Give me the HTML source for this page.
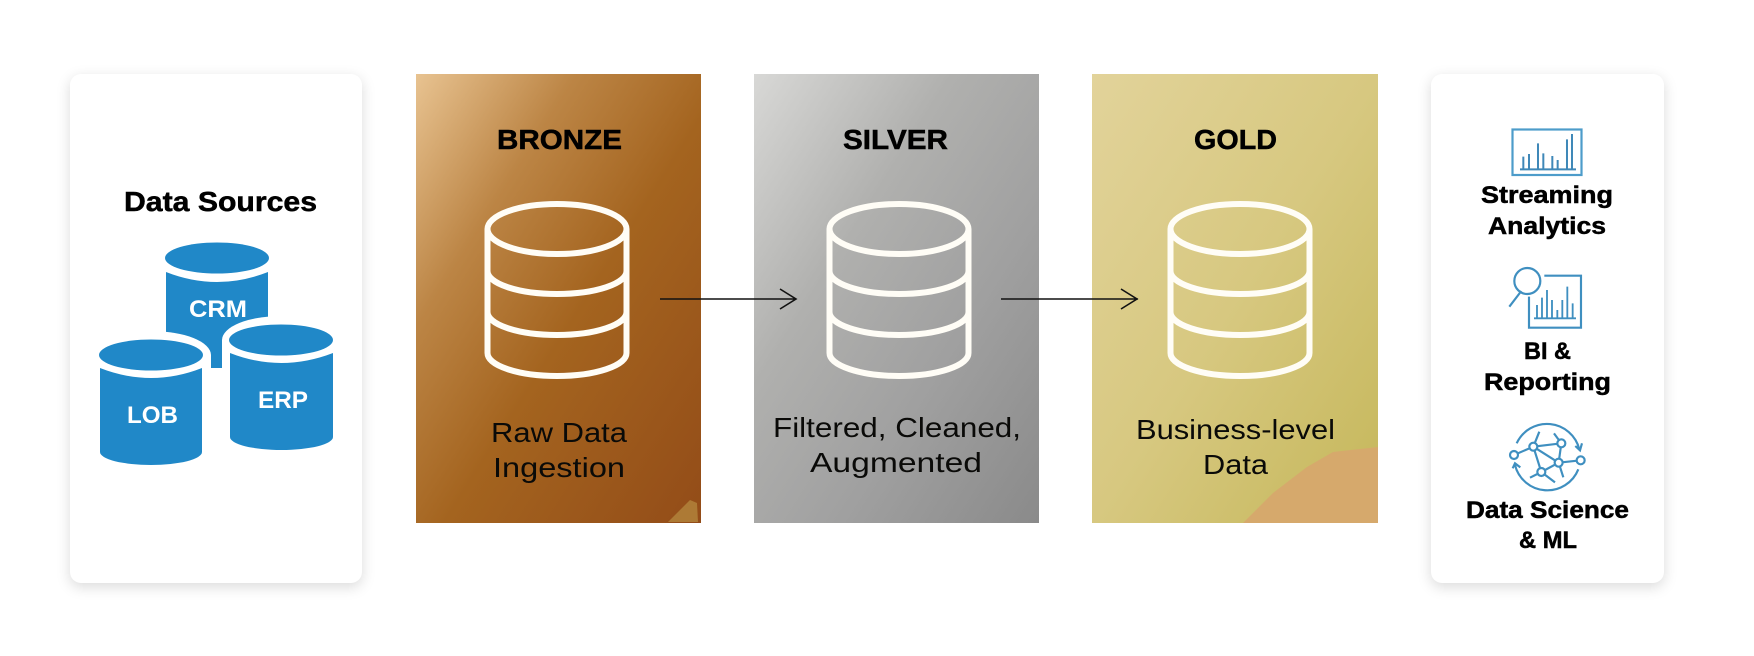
<!DOCTYPE html>
<html><head><meta charset="utf-8"><style>
html,body{margin:0;padding:0;background:#fff;width:1754px;height:656px;overflow:hidden}
.card{position:absolute;background:#fff;border-radius:11px;box-shadow:0 4px 14px rgba(0,0,0,.15)}
svg{position:absolute;left:0;top:0}
text{font-family:"Liberation Sans",sans-serif;fill:#000}
.h{font-weight:bold;font-size:28px;stroke:#000;stroke-width:.5px}
.b{font-size:28px;fill:#0a0a08}
.l{font-weight:bold;font-size:24px;stroke:#000;stroke-width:.5px}
.w{font-weight:bold;font-size:24px;fill:#fff}
</style></head><body>
<div class="card" style="left:70px;top:74px;width:292px;height:509px"></div>
<div class="card" style="left:1431px;top:74px;width:233px;height:509px"></div>
<svg width="1754" height="656" viewBox="0 0 1754 656" xmlns="http://www.w3.org/2000/svg">
<defs>
<linearGradient id="br" x1="0" y1="0" x2="1" y2="1"><stop offset="0" stop-color="#e8c391"/><stop offset=".28" stop-color="#bc8545"/><stop offset=".55" stop-color="#a4641f"/><stop offset="1" stop-color="#934c18"/></linearGradient>
<linearGradient id="si" x1="0" y1="0" x2="1" y2="1"><stop offset="0" stop-color="#d8d8d6"/><stop offset=".35" stop-color="#b0b0ae"/><stop offset=".65" stop-color="#a0a0a0"/><stop offset="1" stop-color="#8a8a8a"/></linearGradient>
<linearGradient id="go" x1="0" y1="0" x2="1" y2="1"><stop offset="0" stop-color="#e2d39a"/><stop offset=".5" stop-color="#d7c880"/><stop offset="1" stop-color="#c5b75a"/></linearGradient>
<g id="cyl" fill="none" stroke="#fffdf6" stroke-width="6">
<ellipse cx="0" cy="229" rx="69.5" ry="25"/>
<path d="M-69.5 229V353A69.5 23 0 0 0 69.5 353V229"/>
<path d="M-69.5 271A69.5 23 0 0 0 69.5 271"/>
<path d="M-69.5 312A69.5 23 0 0 0 69.5 312"/>
</g>
</defs>

<rect x="416" y="74" width="285" height="449" fill="url(#br)"/>
<path d="M668 522L690 500L697 503L698 522Z" fill="#ad7a35"/>
<rect x="754" y="74" width="285" height="449" fill="url(#si)"/>
<rect x="1092" y="74" width="286" height="449" fill="url(#go)"/>
<path d="M1243 523L1273 493L1307 467L1333 452L1378 447V523Z" fill="#d6a96c"/>

<use href="#cyl" x="557"/><use href="#cyl" x="899"/><use href="#cyl" x="1240"/>

<path d="M660 299H796M780 289L796 299L780 309M1001 299H1138M1121 289L1137 299L1121 309" fill="none" stroke="#111" stroke-width="1.6"/>

<text class="h" x="497" y="149" textLength="125" lengthAdjust="spacingAndGlyphs">BRONZE</text>
<text class="h" x="843" y="149" textLength="105" lengthAdjust="spacingAndGlyphs">SILVER</text>
<text class="h" x="1194" y="149" textLength="83" lengthAdjust="spacingAndGlyphs">GOLD</text>
<text class="b" x="491" y="442" textLength="136" lengthAdjust="spacingAndGlyphs">Raw Data</text>
<text class="b" x="493" y="477" textLength="132" lengthAdjust="spacingAndGlyphs">Ingestion</text>
<text class="b" x="773" y="437" textLength="248" lengthAdjust="spacingAndGlyphs">Filtered, Cleaned,</text>
<text class="b" x="810" y="472" textLength="172" lengthAdjust="spacingAndGlyphs">Augmented</text>
<text class="b" x="1136" y="439" textLength="199" lengthAdjust="spacingAndGlyphs">Business-level</text>
<text class="b" x="1203" y="474" textLength="65" lengthAdjust="spacingAndGlyphs">Data</text>

<!-- data sources -->
<text class="h" x="124" y="211" textLength="193" lengthAdjust="spacingAndGlyphs">Data Sources</text>
<g fill="#2088c8">
<ellipse cx="217" cy="258" rx="52" ry="15.5"/>
<path d="M166 272Q217 292 268 272V368H166Z"/>
</g>
<g fill="#fff">
<ellipse cx="151" cy="355" rx="60" ry="24"/><rect x="91" y="355" width="120" height="120"/>
<ellipse cx="281" cy="340" rx="59" ry="24"/><rect x="222" y="340" width="118" height="120"/>
</g>
<g fill="#2088c8">
<ellipse cx="151" cy="355" rx="52" ry="15.5"/>
<path d="M100 368Q151 388 202 368V452A51 13 0 0 1 100 452Z"/>
<ellipse cx="281" cy="340" rx="52" ry="15.5"/>
<path d="M230 353Q281 373 333 353V437A51.5 13 0 0 1 230 437Z"/>
</g>
<text class="w" x="189" y="317" textLength="58" lengthAdjust="spacingAndGlyphs">CRM</text>
<text class="w" x="127" y="423" textLength="51" lengthAdjust="spacingAndGlyphs">LOB</text>
<text class="w" x="258" y="408" textLength="50" lengthAdjust="spacingAndGlyphs">ERP</text>

<!-- icon 1 -->
<rect x="1512.5" y="129.5" width="69" height="45.5" fill="none" stroke="#4d9cca" stroke-width="2.2"/>
<g transform="translate(1460 110) scale(.3333)" fill="none" stroke="#3f88b8" stroke-width="6">
<path d="M180 178H348M190 178V140M207 178V132M234 178V100M250 178V130M277 178V138M293 178V150M321 178V88M336 178V72"/>
</g>
<text class="l" x="1481" y="203" textLength="132" lengthAdjust="spacingAndGlyphs">Streaming</text>
<text class="l" x="1488" y="234" textLength="118" lengthAdjust="spacingAndGlyphs">Analytics</text>

<!-- icon 2 -->
<g transform="translate(1460 255) scale(.3333)" fill="none" stroke="#3f8fc0" stroke-width="6.5">
<circle cx="202" cy="78" r="39"/>
<path d="M184 108L148 155M253 62H363V218H207V125"/>
<path d="M222 190H348M231 190V150M246 190V128M261 190V105M276 190V135M292 190V165M307 190V135M322 190V95M338 190V145" stroke-width="5.5"/>
</g>
<text class="l" x="1524" y="359" textLength="47" lengthAdjust="spacingAndGlyphs">BI &amp;</text>
<text class="l" x="1484" y="390" textLength="127" lengthAdjust="spacingAndGlyphs">Reporting</text>

<!-- icon 3 -->
<g transform="translate(1450 410) scale(.3333)" fill="none" stroke="#3f8fc0" stroke-width="6.5">
<path d="M200 100A100 100 0 0 1 388 118M195 165A100 100 0 0 0 385 178"/>
<path d="M376 108L390 121L396 100M188 175L195 160L211 172"/>
<path d="M192 135L250 110L334 100L326 158L392 151M250 110L326 158L274 186L250 110M250 110L268 65M334 100L312 70M326 158L340 202M274 186L240 203M274 186L315 217"/>
<g fill="#fff">
<circle cx="192" cy="135" r="12"/><circle cx="250" cy="110" r="12"/><circle cx="334" cy="100" r="12"/>
<circle cx="326" cy="158" r="12"/><circle cx="392" cy="151" r="12"/><circle cx="274" cy="186" r="12"/>
</g>
</g>
<text class="l" x="1466" y="518" textLength="163" lengthAdjust="spacingAndGlyphs">Data Science</text>
<text class="l" x="1519" y="548" textLength="58" lengthAdjust="spacingAndGlyphs">&amp; ML</text>
</svg>
</body></html>
